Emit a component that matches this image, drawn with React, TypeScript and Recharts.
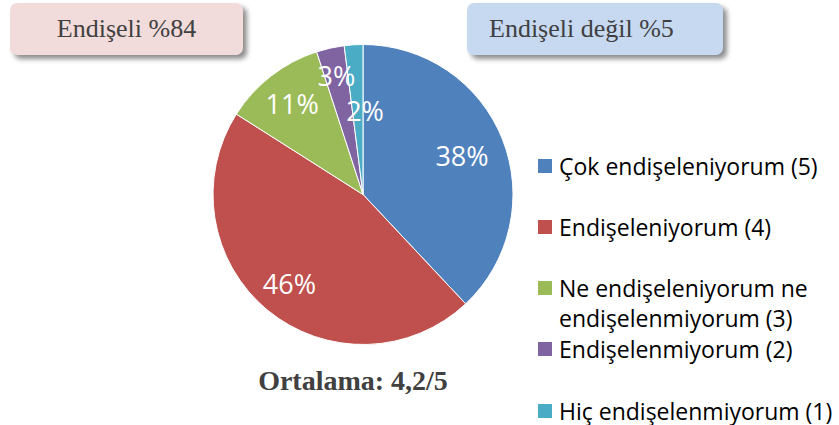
import { PieChart, Pie, Cell, Legend } from "recharts";

const CATEGORIES = [
  "Çok endişeleniyorum (5)",
  "Endişeleniyorum (4)",
  "Ne endişeleniyorum ne endişelenmiyorum (3)",
  "Endişelenmiyorum (2)",
  "Hiç endişelenmiyorum (1)",
];
const PERCENTS = [38, 46, 11, 3, 2];
const COLORS = ["#4f81bd", "#c0504d", "#9bbb59", "#8064a2", "#4bacc6"];

const CONCERNED = "Endişeli %84";
const NOT_CONCERNED = "Endişeli değil %5";
const AVERAGE = "Ortalama: 4,2/5";

const data = CATEGORIES.map((name, i) => ({ name, value: PERCENTS[i] }));

// label placement tweaks (radius factor, angle offset in degrees)
const LABEL_R = [0.71, 0.77, 0.77, 0.81, 0.56];
const LABEL_DA = [0, 0, 0, 0, -5];
// legend row tops
const LEGEND_TOPS = [151, 212, 273, 334, 396];

const RADIAN = Math.PI / 180;

const renderLabel = (props: any) => {
  const { cx, cy, midAngle, outerRadius, index } = props;
  const r = outerRadius * LABEL_R[index];
  const a = (midAngle + LABEL_DA[index]) * RADIAN;
  const x = cx + r * Math.cos(-a);
  const y = cy + r * Math.sin(-a);
  return (
    <text
      x={x}
      y={y}
      fill="#fff"
      textAnchor="middle"
      dominantBaseline="central"
      fontSize={27}
      fontFamily="'Open Sans', sans-serif"
    >
      {`${PERCENTS[index]}%`}
    </text>
  );
};

const renderLegend = () => (
  <div style={{ position: "relative", width: 839, height: 425 }}>
    {data.map((d, i) => (
      <div
        key={d.name}
        style={{
          position: "absolute",
          left: 538,
          top: LEGEND_TOPS[i],
          width: 298,
          fontFamily: "'Open Sans', sans-serif",
          fontSize: 23,
          lineHeight: "30px",
          color: "#000",
        }}
      >
        <span
          style={{
            position: "absolute",
            left: 0,
            top: 8,
            width: 14,
            height: 14,
            background: COLORS[i],
          }}
        />
        <div style={{ marginLeft: 21, width: 277 }}>{d.name}</div>
      </div>
    ))}
  </div>
);

const boxStyle = {
  position: "absolute" as const,
  top: 3,
  height: 52,
  borderRadius: 7,
  boxShadow: "4px 4px 5px rgba(0,0,0,0.45)",
  fontFamily: "'Liberation Serif', serif",
  fontSize: 26,
  lineHeight: "52px",
  color: "#404040",
  textAlign: "center" as const,
};

export default function App() {
  return (
    <div
      style={{
        position: "absolute",
        left: 0,
        top: 0,
        width: 839,
        height: 425,
        background: "#fff",
        overflow: "hidden",
      }}
    >
      <PieChart width={839} height={425} margin={{ top: 0, right: 0, bottom: 0, left: 0 }}>
        <Pie
          data={data}
          dataKey="value"
          cx={363}
          cy={194.5}
          outerRadius={150}
          startAngle={90}
          endAngle={-270}
          stroke="#fff"
          strokeWidth={1}
          label={renderLabel}
          labelLine={false}
          isAnimationActive={false}
        >
          {data.map((_, i) => (
            <Cell key={i} fill={COLORS[i]} />
          ))}
        </Pie>
        <Legend content={renderLegend} wrapperStyle={{ left: 0, top: 0, width: 839, height: 425 }} />
      </PieChart>

      <div style={{ ...boxStyle, left: 10, width: 233, background: "#f2dcdb" }}>{CONCERNED}</div>
      <div
        style={{
          ...boxStyle,
          left: 467,
          width: 256,
          background: "#c6d9f1",
          textAlign: "left",
          paddingLeft: 22,
          boxSizing: "border-box",
        }}
      >
        {NOT_CONCERNED}
      </div>

      <div
        style={{
          position: "absolute",
          left: 203,
          top: 365,
          width: 300,
          textAlign: "center",
          fontFamily: "'Liberation Serif', serif",
          fontWeight: "bold",
          fontSize: 28,
          lineHeight: "32px",
          color: "#404040",
        }}
      >
        {AVERAGE}
      </div>
    </div>
  );
}
